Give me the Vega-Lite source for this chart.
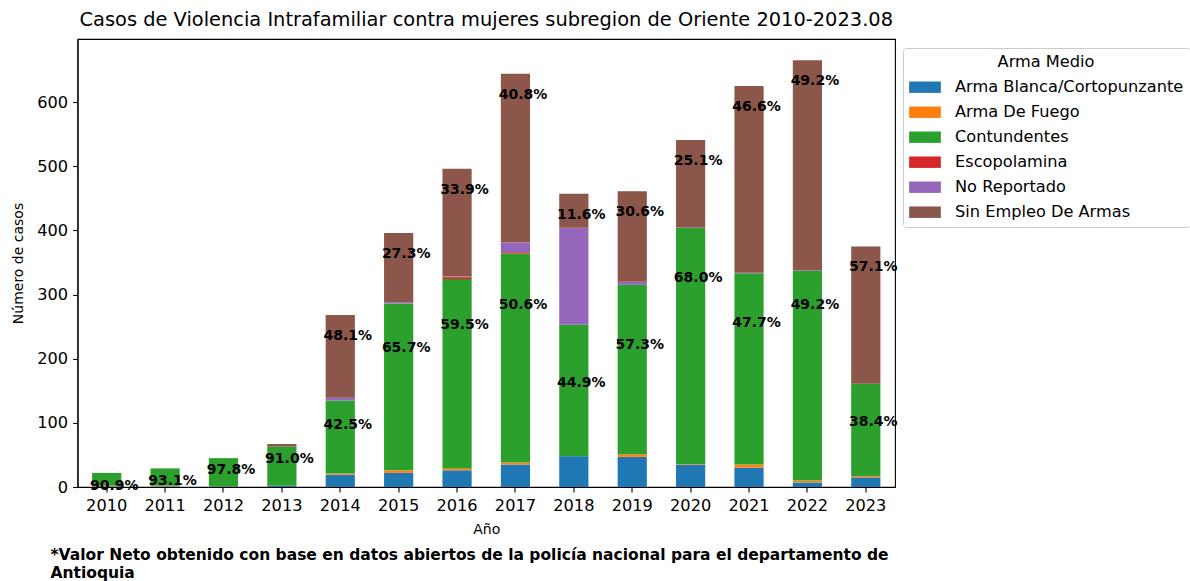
{
  "$schema": "https://vega.github.io/schema/vega-lite/v6.json",
  "autosize": {"type": "none"},
  "padding": {"left": 77.5, "top": 39, "right": 295, "bottom": 94},
  "width": 817.5,
  "height": 448,
  "background": "white",
  "title": {
    "text": "Casos de Violencia Intrafamiliar contra mujeres subregion de Oriente 2010-2023.08",
    "anchor": "middle",
    "frame": "group",
    "font": "DejaVu Sans",
    "fontSize": 19.4,
    "fontWeight": "normal",
    "color": "black",
    "baseline": "alphabetic",
    "offset": 8,
    "dy": 14
  },
  "data": {
    "values": [
      {"Año": 2010, "Arma": "Arma Blanca/Cortopunzante", "casos": 1},
      {"Año": 2010, "Arma": "Arma De Fuego", "casos": 1},
      {"Año": 2010, "Arma": "Contundentes", "casos": 20},
      {"Año": 2011, "Arma": "Arma Blanca/Cortopunzante", "casos": 1},
      {"Año": 2011, "Arma": "Arma De Fuego", "casos": 1},
      {"Año": 2011, "Arma": "Contundentes", "casos": 27},
      {"Año": 2012, "Arma": "Arma Blanca/Cortopunzante", "casos": 1},
      {"Año": 2012, "Arma": "Contundentes", "casos": 44},
      {"Año": 2013, "Arma": "Arma Blanca/Cortopunzante", "casos": 2},
      {"Año": 2013, "Arma": "Contundentes", "casos": 61},
      {"Año": 2013, "Arma": "Sin Empleo De Armas", "casos": 4},
      {"Año": 2014, "Arma": "Arma Blanca/Cortopunzante", "casos": 19},
      {"Año": 2014, "Arma": "Arma De Fuego", "casos": 2},
      {"Año": 2014, "Arma": "Contundentes", "casos": 114},
      {"Año": 2014, "Arma": "No Reportado", "casos": 4},
      {"Año": 2014, "Arma": "Sin Empleo De Armas", "casos": 129},
      {"Año": 2015, "Arma": "Arma Blanca/Cortopunzante", "casos": 22},
      {"Año": 2015, "Arma": "Arma De Fuego", "casos": 4},
      {"Año": 2015, "Arma": "Contundentes", "casos": 260},
      {"Año": 2015, "Arma": "No Reportado", "casos": 2},
      {"Año": 2015, "Arma": "Sin Empleo De Armas", "casos": 108},
      {"Año": 2016, "Arma": "Arma Blanca/Cortopunzante", "casos": 26},
      {"Año": 2016, "Arma": "Arma De Fuego", "casos": 3},
      {"Año": 2016, "Arma": "Contundentes", "casos": 295},
      {"Año": 2016, "Arma": "Escopolamina", "casos": 3},
      {"Año": 2016, "Arma": "No Reportado", "casos": 1},
      {"Año": 2016, "Arma": "Sin Empleo De Armas", "casos": 168},
      {"Año": 2017, "Arma": "Arma Blanca/Cortopunzante", "casos": 35},
      {"Año": 2017, "Arma": "Arma De Fuego", "casos": 3},
      {"Año": 2017, "Arma": "Contundentes", "casos": 326},
      {"Año": 2017, "Arma": "Escopolamina", "casos": 2},
      {"Año": 2017, "Arma": "No Reportado", "casos": 15},
      {"Año": 2017, "Arma": "Sin Empleo De Armas", "casos": 263},
      {"Año": 2018, "Arma": "Arma Blanca/Cortopunzante", "casos": 48},
      {"Año": 2018, "Arma": "Contundentes", "casos": 205},
      {"Año": 2018, "Arma": "No Reportado", "casos": 151},
      {"Año": 2018, "Arma": "Sin Empleo De Armas", "casos": 53},
      {"Año": 2019, "Arma": "Arma Blanca/Cortopunzante", "casos": 47},
      {"Año": 2019, "Arma": "Arma De Fuego", "casos": 4},
      {"Año": 2019, "Arma": "Contundentes", "casos": 264},
      {"Año": 2019, "Arma": "No Reportado", "casos": 5},
      {"Año": 2019, "Arma": "Sin Empleo De Armas", "casos": 141},
      {"Año": 2020, "Arma": "Arma Blanca/Cortopunzante", "casos": 35},
      {"Año": 2020, "Arma": "Arma De Fuego", "casos": 1},
      {"Año": 2020, "Arma": "Contundentes", "casos": 368},
      {"Año": 2020, "Arma": "No Reportado", "casos": 1},
      {"Año": 2020, "Arma": "Sin Empleo De Armas", "casos": 136},
      {"Año": 2021, "Arma": "Arma Blanca/Cortopunzante", "casos": 30},
      {"Año": 2021, "Arma": "Arma De Fuego", "casos": 5},
      {"Año": 2021, "Arma": "Contundentes", "casos": 298},
      {"Año": 2021, "Arma": "No Reportado", "casos": 1},
      {"Año": 2021, "Arma": "Sin Empleo De Armas", "casos": 291},
      {"Año": 2022, "Arma": "Arma Blanca/Cortopunzante", "casos": 7},
      {"Año": 2022, "Arma": "Arma De Fuego", "casos": 3},
      {"Año": 2022, "Arma": "Contundentes", "casos": 327},
      {"Año": 2022, "Arma": "No Reportado", "casos": 1},
      {"Año": 2022, "Arma": "Sin Empleo De Armas", "casos": 327},
      {"Año": 2023, "Arma": "Arma Blanca/Cortopunzante", "casos": 15},
      {"Año": 2023, "Arma": "Arma De Fuego", "casos": 2},
      {"Año": 2023, "Arma": "Contundentes", "casos": 144},
      {"Año": 2023, "Arma": "Sin Empleo De Armas", "casos": 214}
    ]
  },
  "transform": [
    {"joinaggregate": [{"op": "sum", "field": "casos", "as": "total"}], "groupby": ["Año"]},
    {"calculate": "datum.casos / datum.total", "as": "pct"}
  ],
  "layer": [
    {
      "mark": {"type": "bar"},
      "encoding": {
        "x": {
          "field": "Año", "type": "ordinal",
          "scale": {"paddingInner": 0.5, "paddingOuter": 0.25},
          "axis": {"orient": "bottom", "title": "Año", "labelAngle": 0, "labelPadding": 6, "titlePadding": 8}
        },
        "y": {
          "field": "casos", "type": "quantitative", "aggregate": "sum", "stack": "zero",
          "scale": {"domain": [0, 698.25], "nice": false, "zero": true},
          "axis": {"title": "Número de casos", "values": [0, 100, 200, 300, 400, 500, 600], "labelPadding": 5, "titlePadding": 11}
        },
        "color": {
          "field": "Arma", "type": "nominal",
          "scale": {
            "domain": ["Arma Blanca/Cortopunzante", "Arma De Fuego", "Contundentes", "Escopolamina", "No Reportado", "Sin Empleo De Armas"],
            "range": ["#1f77b4", "#ff7f0e", "#2ca02c", "#d62728", "#9467bd", "#8c564b"]
          },
          "legend": {
            "title": "Arma Medio",
            "orient": "none",
            "legendX": 825.5,
            "legendY": 9,
            "titleAnchor": "middle",
            "titlePadding": 1,
            "symbolType": "M-1,-0.36H1V0.36H-1Z",
            "symbolSize": 1005,
            "symbolStrokeWidth": 0,
            "symbolOpacity": 1,
            "labelOffset": 14,
            "labelLimit": 400,
            "rowPadding": -1.1,
            "padding": 6,
            "strokeColor": "#cccccc",
            "fillColor": "white",
            "cornerRadius": 3
          }
        },
        "order": {"field": "Arma", "sort": "ascending"}
      }
    },
    {
      "transform": [{"filter": "datum.Arma === 'Sin Empleo De Armas' && datum.pct >= 0.1"}],
      "mark": {"type": "text", "font": "DejaVu Sans", "fontWeight": "bold", "fontSize": 14, "color": "black", "dx": 7.5, "dy": 21, "baseline": "middle"},
      "encoding": {
        "x": {"field": "Año", "type": "ordinal", "axis": null},
        "y": {"field": "total", "type": "quantitative", "title": "Número de casos"},
        "text": {"field": "pct", "type": "quantitative", "format": ".1%"}
      }
    },
    {
      "transform": [{"filter": "datum.Arma === 'Contundentes' && datum['Año'] <= 2014"}],
      "mark": {"type": "text", "font": "DejaVu Sans", "fontWeight": "bold", "fontSize": 14, "color": "black", "dx": 7.5, "dy": 11.5, "baseline": "middle"},
      "encoding": {
        "x": {
          "field": "Año", "type": "ordinal",
          "axis": {
            "orient": "bottom",
            "title": ["*Valor Neto obtenido con base en datos abiertos de la policía nacional para el departamento de", "Antioquia"],
            "labels": false, "ticks": false, "domain": false,
            "titleX": -27.5, "titleY": 60, "titleAlign": "left", "titleAnchor": "start",
            "titleBaseline": "top", "titleFontWeight": "bold", "titleFontSize": 15.5, "titleLineHeight": 18.5
          }
        },
        "y": {"field": "casos", "type": "quantitative", "title": "Número de casos"},
        "text": {"field": "pct", "type": "quantitative", "format": ".1%"}
      }
    },
    {
      "transform": [{"filter": "datum.Arma === 'Contundentes' && datum['Año'] >= 2015"}],
      "mark": {"type": "text", "font": "DejaVu Sans", "fontWeight": "bold", "fontSize": 14, "color": "black", "dx": 7.5, "dy": 27.6, "baseline": "middle"},
      "encoding": {
        "x": {"field": "Año", "type": "ordinal", "axis": null},
        "y": {"field": "casos", "type": "quantitative", "title": "Número de casos"},
        "text": {"field": "pct", "type": "quantitative", "format": ".1%"}
      }
    }
  ],
  "resolve": {"axis": {"x": "independent"}},
  "config": {
    "font": "DejaVu Sans",
    "view": {"stroke": "black", "strokeWidth": 1.1},
    "axis": {
      "grid": false,
      "domainColor": "black",
      "domainWidth": 1.1,
      "tickColor": "black",
      "tickWidth": 1.1,
      "tickSize": 4.9,
      "labelFont": "DejaVu Sans",
      "labelFontSize": 16.2,
      "labelColor": "black",
      "titleFont": "DejaVu Sans",
      "titleFontSize": 14,
      "titleFontWeight": "normal",
      "titleColor": "black"
    },
    "legend": {
      "labelFont": "DejaVu Sans",
      "labelFontSize": 16.2,
      "labelColor": "black",
      "titleFont": "DejaVu Sans",
      "titleFontSize": 16.2,
      "titleFontWeight": "normal",
      "titleColor": "black"
    }
  }
}
